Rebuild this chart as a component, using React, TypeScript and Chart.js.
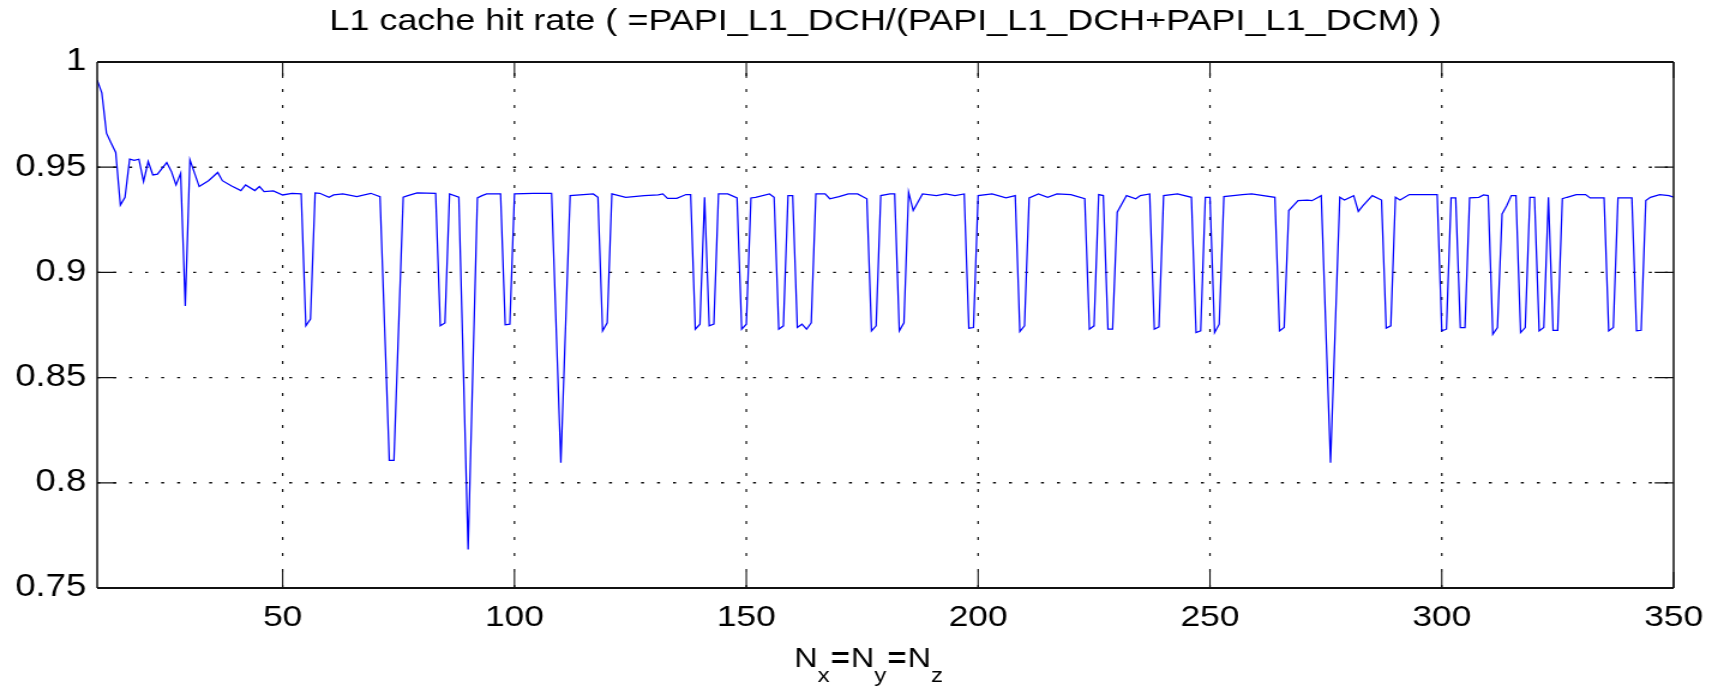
import React, { useEffect, useRef } from "react";
import { Chart, registerables } from "chart.js";

Chart.register(...registerables);

// ---------- text ----------
const TITLE = "L1 cache hit rate ( =PAPI_L1_DCH/(PAPI_L1_DCH+PAPI_L1_DCM) )";
const X_LABEL_SYMBOL = "N";
const X_LABEL_SUBS = ["x", "y", "z"];

// ---------- axes ----------
const X_MIN = 10;
const X_MAX = 350;
const Y_MIN = 0.75;
const Y_MAX = 1;
const X_TICKS = [50, 100, 150, 200, 250, 300, 350];
const Y_TICKS = [0.75, 0.8, 0.85, 0.9, 0.95, 1];

// ---------- data (problem size N and L1 hit rate, vertices) ----------
const N_VALUES = [
  10, 11, 12, 13, 14, 15, 16, 17, 18, 19, 20, 21, 22, 23, 25, 26, 27, 28, 29, 30,
  32, 34, 36, 37, 39, 41, 42, 44, 45, 46,
  48, 50, 52, 54, 55, 56, 57, 58, 60, 61,
  63, 66, 69, 71, 73, 74, 76, 77, 79, 83,
  84, 85, 86, 88, 90, 92, 93, 94, 97, 98,
  99, 100, 104, 108, 110, 112, 117, 118, 119, 120,
  121, 124, 128, 131, 132, 133, 135, 137, 138, 139,
  140, 141, 142, 143, 144, 146, 148, 149, 150, 151,
  152, 155, 156, 157, 158, 159, 160, 161, 162, 163,
  164, 165, 167, 168, 170, 172, 174, 176, 177, 178,
  179, 181, 182, 183, 184, 185, 186, 188, 191, 193,
  195, 197, 198, 199, 200, 203, 206, 208, 209, 210,
  211, 213, 215, 217, 220, 223, 224, 225, 226, 227,
  228, 229, 230, 232, 234, 235, 237, 238, 239, 240,
  243, 246, 247, 248, 249, 250, 251, 252, 253, 255,
  257, 259, 264, 265, 266, 267, 269, 271, 272, 274,
  276, 278, 279, 281, 282, 283, 285, 287, 288, 289,
  290, 291, 293, 299, 300, 301, 302, 303, 304, 305,
  306, 308, 309, 310, 311, 312, 313, 314, 315, 316,
  317, 318, 319, 320, 321, 322, 323, 324, 325, 326,
  327, 329, 331, 332, 335, 336, 337, 338, 341, 342,
  343, 344, 345, 347, 349, 350,
];

const HIT_RATE = [
  0.9914, 0.9853, 0.9662, 0.9615, 0.957, 0.932, 0.9357, 0.9538, 0.9532, 0.9538, 0.9432, 0.9527, 0.9463, 0.9467, 0.9522, 0.948, 0.9416, 0.9471, 0.884, 0.9535,
  0.9408, 0.9436, 0.9475, 0.9436, 0.9411, 0.9389, 0.9416, 0.9389, 0.9408, 0.9384,
  0.9387, 0.9368, 0.9375, 0.9373, 0.8746, 0.8778, 0.9378, 0.9376, 0.9357, 0.9368,
  0.9373, 0.936, 0.9376, 0.936, 0.8106, 0.8106, 0.9357, 0.9365, 0.9378, 0.9376,
  0.8746, 0.876, 0.9373, 0.9357, 0.7683, 0.9354, 0.9365, 0.9373, 0.9373, 0.8751,
  0.8754, 0.9373, 0.9376, 0.9376, 0.8095, 0.9365, 0.9373, 0.9357, 0.8722, 0.876,
  0.9373, 0.9357, 0.9365, 0.9368, 0.9373, 0.9352, 0.9352, 0.937, 0.937, 0.873,
  0.8754, 0.9357, 0.8746, 0.8754, 0.9373, 0.9373, 0.9354, 0.873, 0.8754, 0.9354,
  0.9357, 0.9373, 0.9357, 0.873, 0.8746, 0.9365, 0.9365, 0.8738, 0.8754, 0.873,
  0.876, 0.9373, 0.9373, 0.935, 0.936, 0.9373, 0.9373, 0.935, 0.8722, 0.8746,
  0.9365, 0.9373, 0.9373, 0.8722, 0.876, 0.9381, 0.9294, 0.9373, 0.9365, 0.9373,
  0.9365, 0.9373, 0.8735, 0.8738, 0.9365, 0.9373, 0.9354, 0.9365, 0.8719, 0.8746,
  0.9354, 0.9373, 0.9357, 0.9373, 0.937, 0.935, 0.873, 0.8746, 0.937, 0.9365,
  0.873, 0.873, 0.9286, 0.9365, 0.935, 0.9365, 0.9373, 0.873, 0.8741, 0.9365,
  0.9373, 0.9357, 0.8714, 0.8722, 0.9357, 0.9357, 0.8714, 0.8754, 0.936, 0.9365,
  0.937, 0.9373, 0.9357, 0.8722, 0.8738, 0.9294, 0.9341, 0.9344, 0.9341, 0.9365,
  0.8095, 0.9357, 0.9344, 0.9365, 0.929, 0.9317, 0.9365, 0.9344, 0.8735, 0.8746,
  0.9357, 0.9344, 0.937, 0.937, 0.8722, 0.873, 0.9354, 0.9354, 0.8738, 0.8738,
  0.9354, 0.9357, 0.9368, 0.9365, 0.8706, 0.8738, 0.9278, 0.9317, 0.9365, 0.9365,
  0.8714, 0.8738, 0.9357, 0.9357, 0.8722, 0.8738, 0.9357, 0.8725, 0.8725, 0.935,
  0.9357, 0.937, 0.937, 0.9354, 0.9354, 0.8722, 0.8738, 0.9354, 0.9354, 0.8722,
  0.8725, 0.9341, 0.9357, 0.937, 0.9365, 0.9357,
];

// ---------- layout / style ----------
const PAGE_W = 1718;
const PAGE_H = 690;
const STRETCH = 1.2; // the reference figure is stretched horizontally
const CANVAS_W = Math.round(PAGE_W / STRETCH);
const Y_AXIS_W = 81;
const X_AXIS_H = 102;
const RIGHT_PAD = 37;
const X_LABEL_SHIFT = -14;
const FONT = '"Liberation Sans", Arial, Helvetica, sans-serif';
const INK = "#111111";
const LINE_BLUE = "rgb(0,0,255)";

const axesBox = {
  id: "axesBox",
  beforeDatasetsDraw(chart: any) {
    const { ctx, chartArea: a, scales } = chart;
    const xs = scales.x;
    const ys = scales.y;
    ctx.save();
    ctx.strokeStyle = INK;
    ctx.lineCap = "butt";
    ctx.lineWidth = 1.2;
    ctx.setLineDash([3, 13]);
    X_TICKS.forEach((v) => {
      if (v <= X_MIN || v >= X_MAX) return;
      const px = xs.getPixelForValue(v);
      ctx.beginPath();
      ctx.moveTo(px, a.bottom);
      ctx.lineTo(px, a.top);
      ctx.stroke();
    });
    ctx.lineWidth = 1.4;
    ctx.setLineDash([3 / STRETCH, 13 / STRETCH]);
    Y_TICKS.forEach((v) => {
      if (v <= Y_MIN || v >= Y_MAX) return;
      const py = ys.getPixelForValue(v);
      ctx.beginPath();
      ctx.moveTo(a.left, py);
      ctx.lineTo(a.right, py);
      ctx.stroke();
    });
    ctx.restore();
  },
  afterDatasetsDraw(chart: any) {
    const { ctx, chartArea: a, scales } = chart;
    const xs = scales.x;
    const ys = scales.y;
    ctx.save();
    ctx.setLineDash([]);
    ctx.strokeStyle = INK;
    ctx.lineWidth = 1.3 / STRETCH;
    X_TICKS.forEach((v) => {
      const px = xs.getPixelForValue(v);
      ctx.beginPath();
      ctx.moveTo(px, a.bottom);
      ctx.lineTo(px, a.bottom - 16);
      ctx.moveTo(px, a.top);
      ctx.lineTo(px, a.top + 16);
      ctx.stroke();
    });
    ctx.lineWidth = 1.3;
    Y_TICKS.forEach((v) => {
      const py = ys.getPixelForValue(v);
      ctx.beginPath();
      ctx.moveTo(a.left, py);
      ctx.lineTo(a.left + 19 / STRETCH, py);
      ctx.moveTo(a.right, py);
      ctx.lineTo(a.right - 19 / STRETCH, py);
      ctx.stroke();
    });
    // box
    ctx.lineWidth = 1.8;
    ctx.beginPath();
    ctx.moveTo(a.left, a.top);
    ctx.lineTo(a.right, a.top);
    ctx.moveTo(a.left, a.bottom);
    ctx.lineTo(a.right, a.bottom);
    ctx.stroke();
    ctx.lineWidth = 1.8 / STRETCH;
    ctx.beginPath();
    ctx.moveTo(a.left, a.top);
    ctx.lineTo(a.left, a.bottom);
    ctx.moveTo(a.right, a.top);
    ctx.lineTo(a.right, a.bottom);
    ctx.stroke();
    ctx.restore();
  },
  afterDraw(chart: any) {
    const { ctx, chartArea: a } = chart;
    const mainFont = `27px ${FONT}`;
    const subFont = `20px ${FONT}`;
    const baseY = 667;
    const subY = 682;
    const gap = 1;
    type Piece = { text: string; font: string; y: number; after: number };
    const pieces: Piece[] = [];
    X_LABEL_SUBS.forEach((s, i) => {
      pieces.push({ text: X_LABEL_SYMBOL, font: mainFont, y: baseY, after: 0 });
      pieces.push({ text: s, font: subFont, y: subY, after: gap });
      if (i < X_LABEL_SUBS.length - 1) pieces.push({ text: "=", font: `bold ${mainFont}`, y: baseY, after: gap });
    });
    ctx.save();
    ctx.fillStyle = "#000";
    ctx.textBaseline = "alphabetic";
    ctx.textAlign = "left";
    let total = 0;
    const widths = pieces.map((p, i) => {
      ctx.font = p.font;
      const w = ctx.measureText(p.text).width;
      total += w + (i < pieces.length - 1 ? p.after : 0);
      return w;
    });
    let x = (a.left + a.right) / 2 + X_LABEL_SHIFT - total / 2;
    pieces.forEach((p, i) => {
      ctx.font = p.font;
      ctx.fillText(p.text, x, p.y);
      x += widths[i] + p.after;
    });
    ctx.restore();
  },
};

export default function App() {
  const ref = useRef<HTMLCanvasElement | null>(null);

  useEffect(() => {
    const canvas = ref.current;
    if (!canvas) return;
    const points = N_VALUES.map((n, i) => ({ x: n, y: HIT_RATE[i] }));
    const chart = new Chart(canvas, {
      type: "line",
      data: {
        datasets: [
          {
            label: "L1 hit rate",
            data: points,
            borderColor: LINE_BLUE,
            borderWidth: 1.25,
            pointRadius: 0,
            tension: 0,
            fill: false,
          },
        ],
      },
      options: {
        responsive: false,
        maintainAspectRatio: false,
        animation: false,
        events: [],
        layout: { padding: { left: 0, right: RIGHT_PAD, top: 0, bottom: 0 } },
        plugins: {
          legend: { display: false },
          tooltip: { enabled: false },
          title: {
            display: true,
            fullSize: false,
            text: TITLE,
            color: "#000",
            font: { family: FONT, size: 30, weight: "normal" },
            padding: { top: 4, bottom: 22 },
          },
        },
        scales: {
          x: {
            type: "linear",
            min: X_MIN,
            max: X_MAX,
            grid: { display: false, drawTicks: false },
            border: { display: false },
            afterBuildTicks: (s: any) => {
              s.ticks = X_TICKS.map((v) => ({ value: v }));
            },
            afterFit: (s: any) => {
              s.height = X_AXIS_H;
            },
            ticks: {
              color: "#000",
              font: { family: FONT, size: 29.5 },
              padding: 12,
              maxRotation: 0,
              autoSkip: false,
              callback: (v: any) => String(v),
            },
          },
          y: {
            type: "linear",
            min: Y_MIN,
            max: Y_MAX,
            grid: { display: false, drawTicks: false },
            border: { display: false },
            afterBuildTicks: (s: any) => {
              s.ticks = Y_TICKS.map((v) => ({ value: v }));
            },
            afterFit: (s: any) => {
              s.width = Y_AXIS_W;
            },
            ticks: {
              color: "#000",
              font: { family: FONT, size: 30.5 },
              padding: 9,
              autoSkip: false,
              callback: (v: any) => String(Math.round(Number(v) * 100) / 100),
            },
          },
        },
      },
      plugins: [axesBox],
    } as any);
    return () => chart.destroy();
  }, []);

  return (
    <div style={{ position: "absolute", left: 0, top: 0, width: PAGE_W, height: PAGE_H, background: "#fff" }}>
      <canvas
        ref={ref}
        width={CANVAS_W}
        height={PAGE_H}
        style={{ width: PAGE_W, height: PAGE_H, display: "block" }}
      />
    </div>
  );
}
